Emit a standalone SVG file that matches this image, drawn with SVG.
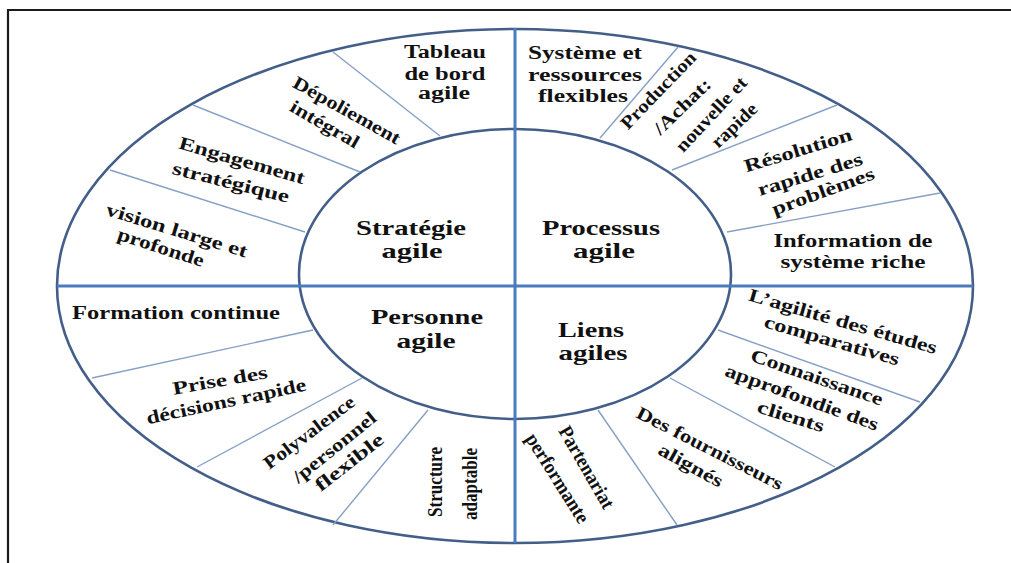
<svg xmlns="http://www.w3.org/2000/svg" width="1011" height="563" viewBox="0 0 1011 563">
<style>
.frame{stroke:#1a1a1a;stroke-width:2.2;fill:none}
.ring{fill:none;stroke:#435f89;stroke-width:2.6}
.axis{stroke:#4a7bbd;stroke-width:3}
.div{stroke:#86a0c4;stroke-width:1.4}
text{font-family:"Liberation Serif","Times New Roman",serif;font-weight:bold;fill:#111;text-anchor:middle}
.c{font-size:21.5px}
.o{font-size:18.5px}
.r{font-size:18.5px}
.v{font-size:20px}
</style>
<rect width="1011" height="563" fill="#ffffff"/>
<g id="frame">
<line class="frame" x1="8" y1="10" x2="1011" y2="10"/>
<line class="frame" x1="8" y1="9" x2="8" y2="563"/>
</g>
<g id="rings">
<ellipse class="ring" cx="515" cy="286" rx="458" ry="257"/>
<ellipse class="ring" cx="515" cy="274" rx="216" ry="145"/>
</g>
<g id="connectors">
<line class="axis" x1="515" y1="28" x2="515" y2="543"/>
<line class="axis" x1="57" y1="286" x2="973" y2="286"/>
<line class="div" x1="440" y1="136" x2="333" y2="52"/>
<line class="div" x1="360" y1="172" x2="193" y2="105"/>
<line class="div" x1="305" y1="232" x2="110" y2="170"/>
<line class="div" x1="600" y1="138" x2="678" y2="47"/>
<line class="div" x1="672" y1="170" x2="837" y2="105"/>
<line class="div" x1="727" y1="232" x2="940" y2="193"/>
<line class="div" x1="313" y1="330" x2="92" y2="378"/>
<line class="div" x1="362" y1="378" x2="197" y2="467"/>
<line class="div" x1="428" y1="410" x2="333" y2="525"/>
<line class="div" x1="598" y1="410" x2="677" y2="525"/>
<line class="div" x1="670" y1="378" x2="835" y2="467"/>
<line class="div" x1="718" y1="330" x2="920" y2="402"/>
</g>
<g id="strategie-agile">
<text class="c" x="411" y="235" textLength="110" lengthAdjust="spacingAndGlyphs">Stratégie</text>
<text class="c" x="412" y="258" textLength="61" lengthAdjust="spacingAndGlyphs">agile</text>
</g>
<g id="processus-agile">
<text class="c" x="601" y="235" textLength="118" lengthAdjust="spacingAndGlyphs">Processus</text>
<text class="c" x="604" y="258" textLength="62" lengthAdjust="spacingAndGlyphs">agile</text>
</g>
<g id="personne-agile">
<text class="c" x="427" y="324" textLength="112" lengthAdjust="spacingAndGlyphs">Personne</text>
<text class="c" x="426" y="348" textLength="59" lengthAdjust="spacingAndGlyphs">agile</text>
</g>
<g id="liens-agiles">
<text class="c" x="591" y="337" textLength="66" lengthAdjust="spacingAndGlyphs">Liens</text>
<text class="c" x="593" y="360" textLength="69" lengthAdjust="spacingAndGlyphs">agiles</text>
</g>
<g id="tableau">
<text class="o" x="445" y="58" textLength="82" lengthAdjust="spacingAndGlyphs">Tableau</text>
<text class="o" x="445" y="80" textLength="81" lengthAdjust="spacingAndGlyphs">de bord</text>
<text class="o" x="444" y="99" textLength="52" lengthAdjust="spacingAndGlyphs">agile</text>
</g>
<g id="depoliement">
<text class="r" x="347" y="110" dy="0.35em" transform="rotate(29 347 110)" textLength="120" lengthAdjust="spacingAndGlyphs">Dépoliement</text>
<text class="r" x="325" y="124" dy="0.35em" transform="rotate(30 325 124)" textLength="77" lengthAdjust="spacingAndGlyphs">intégral</text>
</g>
<g id="engagement">
<text class="r" x="242" y="160" dy="0.35em" transform="rotate(16 242 160)" textLength="130" lengthAdjust="spacingAndGlyphs">Engagement</text>
<text class="r" x="231" y="182" dy="0.35em" transform="rotate(14 231 182)" textLength="120" lengthAdjust="spacingAndGlyphs">stratégique</text>
</g>
<g id="vision">
<text class="r" x="177" y="230" dy="0.35em" transform="rotate(17 177 230)" textLength="147" lengthAdjust="spacingAndGlyphs">vision large et</text>
<text class="r" x="161" y="247" dy="0.35em" transform="rotate(18 161 247)" textLength="90" lengthAdjust="spacingAndGlyphs">profonde</text>
</g>
<g id="systeme">
<text class="o" x="585" y="59" textLength="114" lengthAdjust="spacingAndGlyphs">Système et</text>
<text class="o" x="585" y="81" textLength="114" lengthAdjust="spacingAndGlyphs">ressources</text>
<text class="o" x="583" y="102" textLength="90" lengthAdjust="spacingAndGlyphs">flexibles</text>
</g>
<g id="production">
<text class="r" x="658" y="90" dy="0.35em" transform="rotate(-46 658 90)" textLength="100" lengthAdjust="spacingAndGlyphs">Production</text>
<text class="r" x="682" y="106" dy="0.35em" transform="rotate(-44 682 106)" textLength="72" lengthAdjust="spacingAndGlyphs">/Achat:</text>
<text class="r" x="711" y="114" dy="0.35em" transform="rotate(-47 711 114)" textLength="95" lengthAdjust="spacingAndGlyphs">nouvelle et</text>
<text class="r" x="734" y="125" dy="0.35em" transform="rotate(-44 734 125)" textLength="56" lengthAdjust="spacingAndGlyphs">rapide</text>
</g>
<g id="resolution">
<text class="r" x="798" y="150" dy="0.35em" transform="rotate(-17 798 150)" textLength="112" lengthAdjust="spacingAndGlyphs">Résolution</text>
<text class="r" x="810" y="174" dy="0.35em" transform="rotate(-17 810 174)" textLength="109" lengthAdjust="spacingAndGlyphs">rapide des</text>
<text class="r" x="823" y="191" dy="0.35em" transform="rotate(-20 823 191)" textLength="108" lengthAdjust="spacingAndGlyphs">problèmes</text>
</g>
<g id="information">
<text class="o" x="853" y="247" textLength="159" lengthAdjust="spacingAndGlyphs">Information de</text>
<text class="o" x="853" y="268" textLength="145" lengthAdjust="spacingAndGlyphs">système riche</text>
</g>
<g id="formation">
<text class="o" x="176" y="319" style="font-size:19.5px" textLength="208" lengthAdjust="spacingAndGlyphs">Formation continue</text>
</g>
<g id="prise">
<text class="r" x="220" y="380" dy="0.35em" transform="rotate(-10 220 380)" textLength="96" lengthAdjust="spacingAndGlyphs">Prise des</text>
<text class="r" x="226" y="401" dy="0.35em" transform="rotate(-12 226 401)" textLength="163" lengthAdjust="spacingAndGlyphs">décisions rapide</text>
</g>
<g id="polyvalence">
<text class="r" x="309" y="432" dy="0.35em" transform="rotate(-37 309 432)" textLength="109" lengthAdjust="spacingAndGlyphs">Polyvalence</text>
<text class="r" x="334" y="447" dy="0.35em" transform="rotate(-39 334 447)" textLength="102" lengthAdjust="spacingAndGlyphs">/personnel</text>
<text class="r" x="349" y="462" dy="0.35em" transform="rotate(-38 349 462)" textLength="82" lengthAdjust="spacingAndGlyphs">flexible</text>
</g>
<g id="structure">
<text class="v" x="435" y="482" dy="0.35em" transform="rotate(-90 435 482)" textLength="70" lengthAdjust="spacingAndGlyphs">Structure</text>
<text class="v" x="470" y="484" dy="0.35em" transform="rotate(-90 470 484)" textLength="72" lengthAdjust="spacingAndGlyphs">adaptable</text>
</g>
<g id="agilite">
<text class="r" x="843" y="321" dy="0.35em" transform="rotate(16 843 321)" textLength="195" lengthAdjust="spacingAndGlyphs">L’agilité des études</text>
<text class="r" x="832" y="340" dy="0.35em" transform="rotate(16 832 340)" textLength="140" lengthAdjust="spacingAndGlyphs">comparatives</text>
</g>
<g id="connaissance">
<text class="r" x="817" y="377" dy="0.35em" transform="rotate(19 817 377)" textLength="139" lengthAdjust="spacingAndGlyphs">Connaissance</text>
<text class="r" x="802" y="397" dy="0.35em" transform="rotate(20 802 397)" textLength="162" lengthAdjust="spacingAndGlyphs">approfondie des</text>
<text class="r" x="791" y="416" dy="0.35em" transform="rotate(17 791 416)" textLength="69" lengthAdjust="spacingAndGlyphs">clients</text>
</g>
<g id="fournisseurs">
<text class="r" x="710" y="448" dy="0.35em" transform="rotate(27 710 448)" textLength="162" lengthAdjust="spacingAndGlyphs">Des fournisseurs</text>
<text class="r" x="691" y="465" dy="0.35em" transform="rotate(29 691 465)" textLength="71" lengthAdjust="spacingAndGlyphs">alignés</text>
</g>
<g id="partenariat">
<text class="v" x="587" y="467" dy="0.35em" transform="rotate(60 587 467)" textLength="92" lengthAdjust="spacingAndGlyphs">Partenariat</text>
<text class="v" x="558" y="478" dy="0.35em" transform="rotate(58 558 478)" textLength="102" lengthAdjust="spacingAndGlyphs">performante</text>
</g>
</svg>
